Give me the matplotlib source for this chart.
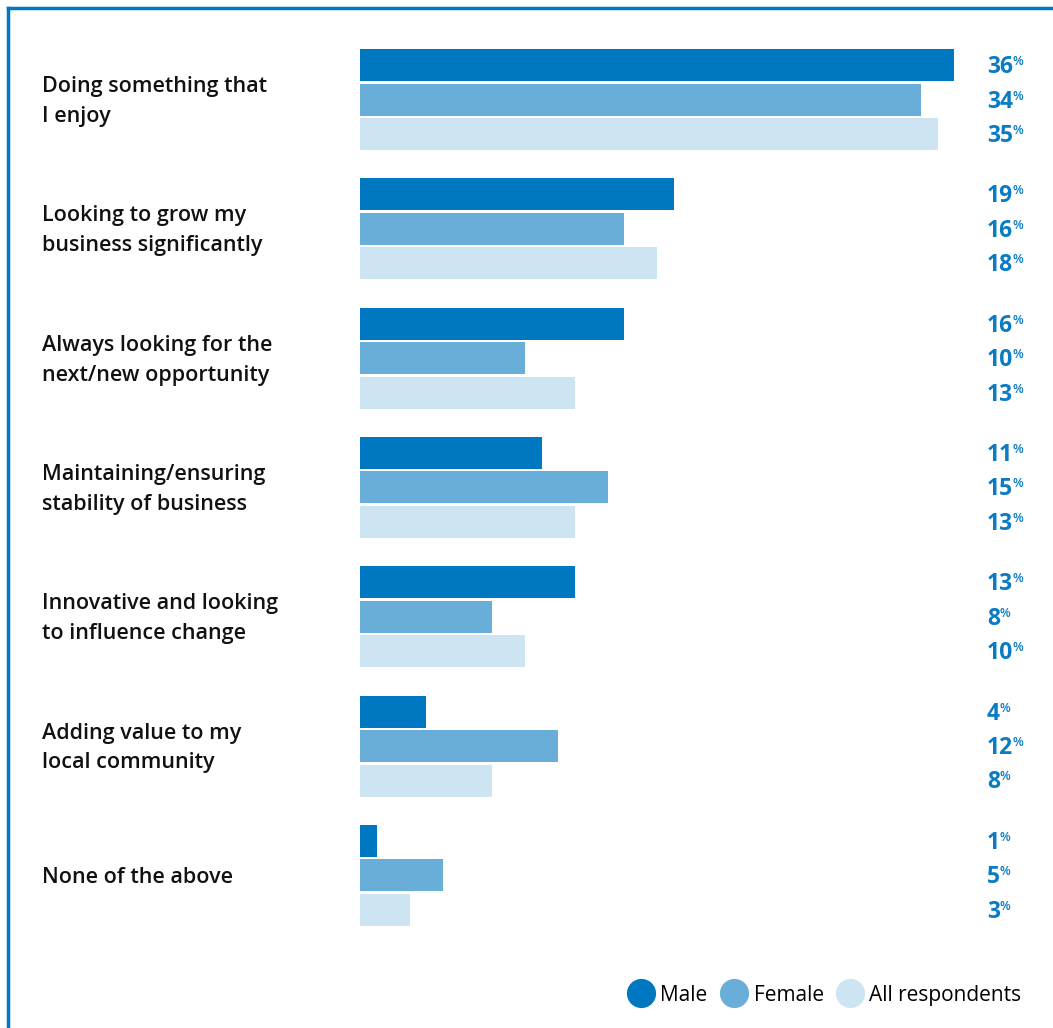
import matplotlib
matplotlib.use("Agg")
import matplotlib.pyplot as plt
from matplotlib.lines import Line2D
import numpy as np

categories = [
    "Doing something that\nI enjoy",
    "Looking to grow my\nbusiness significantly",
    "Always looking for the\nnext/new opportunity",
    "Maintaining/ensuring\nstability of business",
    "Innovative and looking\nto influence change",
    "Adding value to my\nlocal community",
    "None of the above",
]
series_names = ["Male", "Female", "All respondents"]
male = [36, 19, 16, 11, 13, 4, 1]
female = [34, 16, 10, 15, 8, 12, 5]
all_resp = [35, 18, 13, 13, 10, 8, 3]

colors = ["#0078c1", "#69add9", "#cde4f2"]
label_blue = "#0a7cc4"
FONT = "Open Sans"

W, H = 1053, 1028
fig = plt.figure(figsize=(W / 100, H / 100), dpi=100)
ax = fig.add_axes([0, 0, 1, 1])
ax.axis("off")

# 0% sits at px 360, 16.5 px per percentage point
x0_px, px_per = 360, 16.5
ax.set_xlim(-x0_px / px_per, (W - x0_px) / px_per)
ax.set_ylim(H, 0)

group_step = 129.3
bar_step = 34.5
bar_h = 32
first_center = 65

renderer = fig.canvas.get_renderer()
inv = ax.transData.inverted()
for j, vals in enumerate([male, female, all_resp]):
    ys = first_center + np.arange(len(categories)) * group_step + j * bar_step
    ax.barh(ys, vals, height=bar_h, left=0, color=colors[j], label=series_names[j])
    for y, v in zip(ys, vals):
        t = ax.text((987 - x0_px) / px_per, y + 2, str(v), color=label_blue,
                    fontsize=16.5, fontweight="bold", family=FONT,
                    ha="left", va="center")
        bb = t.get_window_extent(renderer)
        xr, _ = inv.transform((bb.x1, bb.y1))
        ax.text(xr - 0.03, y - 3.5, "%", color=label_blue, fontsize=9,
                fontweight="semibold", family=FONT, ha="left", va="center")

for i, cat in enumerate(categories):
    y = first_center + i * group_step + bar_step
    ax.text((42 - x0_px) / px_per, y + 2, cat, fontsize=15.5, fontweight="semibold",
            family=FONT, color="#111111", ha="left", va="center", linespacing=1.55)

handles = [Line2D([], [], marker="o", linestyle="none", markersize=21,
                  markerfacecolor=c, markeredgecolor="none") for c in colors]
fig.legend(handles, series_names, loc="center right", bbox_to_anchor=(0.988, 0.032),
           ncol=3, frameon=False, handletextpad=0.45, columnspacing=0.75,
           prop={"family": FONT, "size": 15}, handlelength=1.0)

# frame lines on top and left
fig.add_artist(Line2D([8 / W, 1], [1 - 8 / H, 1 - 8 / H], color="#0078c1", lw=2.5,
                      transform=fig.transFigure))
fig.add_artist(Line2D([8 / W, 8 / W], [0, 1 - 8 / H], color="#0078c1", lw=2.5,
                      transform=fig.transFigure))

fig.savefig("out.png", dpi=100)
